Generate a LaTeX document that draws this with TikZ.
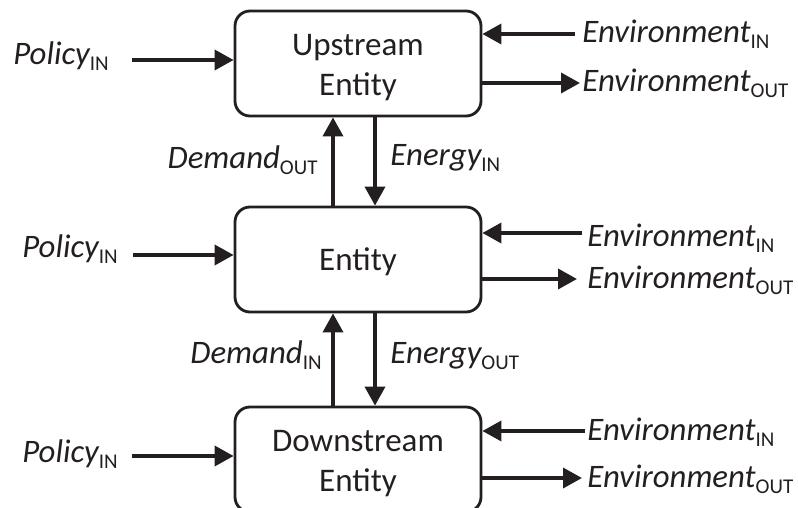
\documentclass[tikz,border=0pt]{standalone}
\usepackage{fontspec}
\setmainfont{Carlito}
\usetikzlibrary{arrows.meta}
\definecolor{ink}{HTML}{231F20}
% upright lowered tag used as a subscript on the flow names
\newcommand{\lowtag}[1]{\raisebox{-3pt}{\fontsize{10.5}{11}\selectfont\upshape #1}}
\begin{document}
\begin{tikzpicture}[x=0.5pt,y=-0.5pt,
  entity/.style={draw=ink, line width=1.4pt, rounded corners=7.5pt,
    minimum width=123pt, minimum height=52.5pt, inner sep=0pt},
  boxtext/.style={align=center, font=\fontsize{16.5}{20}\selectfont,
    text=ink, inner sep=0pt},
  lbl/.style={font=\fontsize{16.4}{19}\selectfont\itshape, text=ink, inner sep=0pt},
  arr/.style={draw=ink, line width=1.8pt, -{Triangle[length=9.5pt,width=10pt]}},
]
\useasboundingbox (0,0) rectangle (798,508);
\clip (0,0) rectangle (798,508);

% entities
\node[entity] (up)   at (358,63.5)  {};
\node[entity] (mid)  at (358,259.5) {};
\node[entity] (down) at (358,459.5) {};
\node[boxtext] (upt)   at (358,67.5)  {Upstream\\Entity};
\node[boxtext] (midt)  at (358,262)   {Entity};
\node[boxtext] (downt) at (358,463.5) {Downstream\\Entity};

% policy inputs
\node[lbl, anchor=base west] (pol1) at (13,65)  {Policy\lowtag{IN}};
\node[lbl, anchor=base west] (pol2) at (22,257) {Policy\lowtag{IN}};
\node[lbl, anchor=base west] (pol3) at (22,462) {Policy\lowtag{IN}};
\coordinate (pa1) at (132,60);
\coordinate (pa2) at (133,255);
\coordinate (pa3) at (132,456);
\draw[arr] (pa1) -- (pa1 -| up.west);
\draw[arr] (pa2) -- (pa2 -| mid.west);
\draw[arr] (pa3) -- (pa3 -| down.west);

% environment exchanges
\node[lbl, anchor=base west] (ein1)  at (582,43)  {Environment\lowtag{IN}};
\node[lbl, anchor=base west] (eout1) at (582,92)  {Environment\lowtag{OUT}};
\node[lbl, anchor=base west] (ein2)  at (587,246) {Environment\lowtag{IN}};
\node[lbl, anchor=base west] (eout2) at (587,288) {Environment\lowtag{OUT}};
\node[lbl, anchor=base west] (ein3)  at (587,440) {Environment\lowtag{IN}};
\node[lbl, anchor=base west] (eout3) at (587,487) {Environment\lowtag{OUT}};
\coordinate (ei1) at (575,34);
\coordinate (eo1) at (580,83);
\coordinate (ei2) at (582,233);
\coordinate (eo2) at (577,279);
\coordinate (ei3) at (585,431);
\coordinate (eo3) at (582,478);
\draw[arr] (ei1) -- (ei1 -| up.east);
\draw[arr] (eo1 -| up.east) -- (eo1);
\draw[arr] (ei2) -- (ei2 -| mid.east);
\draw[arr] (eo2 -| mid.east) -- (eo2);
\draw[arr] (ei3) -- (ei3 -| down.east);
\draw[arr] (eo3 -| down.east) -- (eo3);

% demand goes up, energy comes down
\coordinate (ux) at (333,0);
\coordinate (dx) at (375,0);
\draw[arr] (ux |- mid.north) -- (ux |- up.south);
\draw[arr] (dx |- up.south) -- (dx |- mid.north);
\draw[arr] (ux |- down.north) -- (ux |- mid.south);
\draw[arr] (dx |- mid.south) -- (dx |- down.north);
\node[lbl, anchor=base east] (dem1) at (318,169) {Demand\lowtag{OUT}};
\node[lbl, anchor=base west] (en1)  at (390,165) {Energy\lowtag{IN}};
\node[lbl, anchor=base east] (dem2) at (322,363) {Demand\lowtag{IN}};
\node[lbl, anchor=base west] (en2)  at (390,363) {Energy\lowtag{OUT}};
\end{tikzpicture}
\end{document}
